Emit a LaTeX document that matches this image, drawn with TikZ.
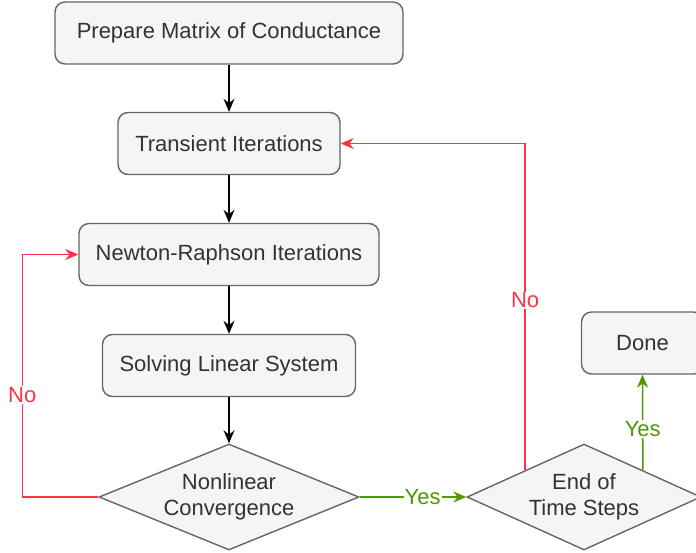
\documentclass[tikz,border=0pt]{standalone}
\usepackage{fontspec}
\setmainfont{Liberation Sans}
\usetikzlibrary{shapes.geometric,arrows.meta,calc}

\definecolor{boxfill}{HTML}{F5F5F5}
\definecolor{boxline}{HTML}{666666}
\definecolor{boxtext}{HTML}{333333}
\definecolor{nored}{HTML}{FF3345}
\definecolor{yesgreen}{HTML}{4D9900}

\tikzset{
  stepbox/.style={draw=boxline, fill=boxfill, text=boxtext, rounded corners=10pt,
    line width=1.4pt, minimum height=62pt, inner sep=0pt,
    font=\fontsize{22}{26}\selectfont},
  decision/.style={diamond, shape aspect=2.45, draw=boxline, fill=boxfill, text=boxtext,
    line width=1.4pt, minimum width=260pt, minimum height=106pt, inner sep=0pt,
    align=center, font=\fontsize{22}{26}\selectfont},
  flow/.style={-{Stealth[length=13pt,width=11pt]}, line width=1.5pt},
  noflow/.style={flow, draw=nored},
  yesflow/.style={flow, draw=yesgreen},
  lbl/.style={fill=white, inner sep=1pt, font=\fontsize{22}{26}\selectfont}
}

\begin{document}
\begin{tikzpicture}[x=1pt, y=-1pt]
            \useasboundingbox (0,0) rectangle (696,552);

            \node[stepbox, minimum width=348pt] (prepare) at (229, 33) {Prepare Matrix of Conductance};
            \node[stepbox, minimum width=222pt] (transient) at (229, 143.5) {Transient Iterations};
            \node[stepbox, minimum width=300pt] (newton) at (229, 254.5) {Newton-Raphson Iterations};
            \node[stepbox, minimum width=253pt] (linear) at (229, 365.5) {Solving Linear System};
            \node[decision] (nonlin) at (229, 497) {Nonlinear\\Convergence};
            \node[decision, minimum width=234pt] (endsteps) at (584, 497) {End of\\Time Steps};
            \node[stepbox, minimum width=122pt] (done) at (642.5, 343) {Done};

            \draw[flow] (prepare) -- (transient);
            \draw[flow] (transient) -- (newton);
            \draw[flow] (newton) -- (linear);
            \draw[flow] (linear) -- (nonlin);

            \draw[yesflow] (nonlin.east) -- node[lbl, pos=0.59, text=yesgreen] {Yes} (endsteps.west);
            \draw[noflow] (nonlin.west) -- ++(-76,0)
              |- node[lbl, pos=0.21, text=nored] {No} (newton.west);
            \draw[noflow] ($(endsteps.north)!0.5!(endsteps.west)$)
              |- node[lbl, pos=0.26, text=nored] {No} (transient.east);
            \draw[yesflow] ($(endsteps.north)!0.5!(endsteps.east)$)
              -- node[lbl, pos=0.43, text=yesgreen] {Yes} (done.south);
        \end{tikzpicture}
\end{document}
